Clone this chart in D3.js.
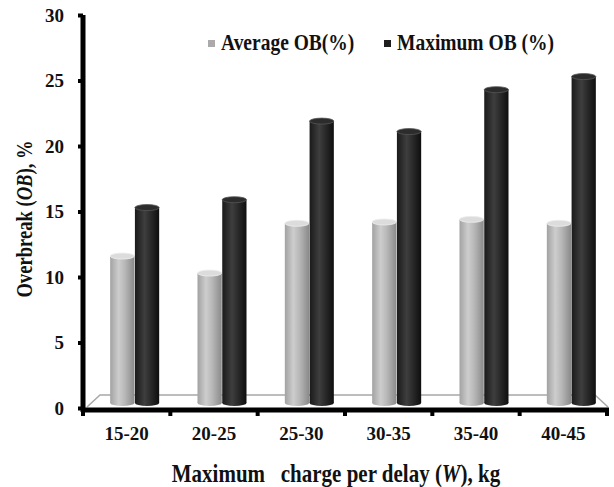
<!DOCTYPE html>
<html>
<head>
<meta charset="utf-8">
<script src="https://cdn.jsdelivr.net/npm/d3@7"></script>
<style>
body{margin:0;background:#fff;}
text{font-family:"Liberation Serif","Times New Roman",serif;font-weight:bold;fill:#111;}
</style>
</head>
<body>
<svg id="chart" width="614" height="487"></svg>
<script>
var categories=["15-20","20-25","25-30","30-35","35-40","40-45"];
var series=["Average OB(%)","Maximum OB (%)"];
var averageOB=[11.6,10.3,14.1,14.2,14.4,14.1];
var maximumOB=[15.3,15.9,21.9,21.1,24.3,25.3];
var yTicks=[0,5,10,15,20,25,30];

var w=614,h=487;
var margin={top:15,bottom:77,left:83,right:7};
var depth={x:8,y:-5};

var svg=d3.select("#chart")
          .attr("width",w)
          .attr("height",h);

var yScale=d3.scaleLinear()
             .domain([0,30])
             .range([h-margin.bottom-2,margin.top]);
var x0=d3.scaleBand()
         .domain(categories)
         .range([margin.left,w-margin.right]);
var pairW=49;
var x1=d3.scaleBand()
         .domain(series)
         .range([0,pairW])
         .paddingInner(0.02);

var defs=svg.append("defs");
var grads=[
  {id:"gGray",stops:[[0,"#a2a2a2"],[0.35,"#cdcdcd"],[0.6,"#b8b8b8"],[1,"#8a8a8a"]]},
  {id:"gBlack",stops:[[0,"#1a1a1a"],[0.4,"#3e3e3e"],[0.7,"#262626"],[1,"#0e0e0e"]]}
];
grads.forEach(function(g){
  defs.append("linearGradient")
      .attr("id",g.id)
      .attr("x1","0").attr("x2","1").attr("y1","0").attr("y2","0")
      .selectAll("stop")
      .data(g.stops)
      .enter()
      .append("stop")
      .attr("offset",function(d){return d[0];})
      .attr("stop-color",function(d){return d[1];});
});
var fills={"Average OB(%)":"url(#gGray)","Maximum OB (%)":"url(#gBlack)"};
var tops={"Average OB(%)":"#dcdcdc","Maximum OB (%)":"#2c2c2c"};
var legendCol={"Average OB(%)":"#aaaaaa","Maximum OB (%)":"#1e1e1e"};

// floor
var y0=yScale(0);
var fl=[[margin.left+4,y0-1],[margin.left+4+2*depth.x-3,y0+2*depth.y-3],
        [w-margin.right-12,y0+2*depth.y-3],[w-margin.right+1,y0-1]];
svg.append("path")
   .attr("d","M"+fl.map(function(p){return p.join(",");}).join("L"))
   .attr("fill","none")
   .attr("stroke","#a8a8a8")
   .attr("stroke-width",1.5);

// bars
var rows=categories.map(function(c,i){
  return {cat:c,vals:[{s:series[0],v:averageOB[i]},{s:series[1],v:maximumOB[i]}]};
});
var ry=3;
var yb=y0+depth.y;
var groups=svg.append("g")
   .selectAll("g")
   .data(rows)
   .enter()
   .append("g")
   .attr("transform",function(d){
     return "translate("+(x0(d.cat)+(x0.bandwidth()-pairW)/2+depth.x)+",0)";
   });
var bar=groups.selectAll("g")
   .data(function(d){return d.vals;})
   .enter()
   .append("g");
bar.append("ellipse")
   .attr("cx",function(d){return x1(d.s)+x1.bandwidth()/2;})
   .attr("cy",yb)
   .attr("rx",x1.bandwidth()/2)
   .attr("ry",ry)
   .attr("fill",function(d){return fills[d.s];});
bar.append("rect")
   .attr("x",function(d){return x1(d.s);})
   .attr("y",function(d){return yScale(d.v);})
   .attr("width",x1.bandwidth())
   .attr("height",function(d){return yb-yScale(d.v);})
   .attr("fill",function(d){return fills[d.s];});
bar.append("ellipse")
   .attr("cx",function(d){return x1(d.s)+x1.bandwidth()/2;})
   .attr("cy",function(d){return yScale(d.v);})
   .attr("rx",x1.bandwidth()/2)
   .attr("ry",ry)
   .attr("fill",function(d){return tops[d.s];})
   .attr("stroke",function(d){return d.s==series[0]?"#eeeeee":"#555";})
   .attr("stroke-width",0.8);

// y axis
var yAxis=d3.axisLeft(yScale)
            .tickValues(yTicks)
            .tickSize(5)
            .tickPadding(14);
var gy=svg.append("g")
   .attr("transform","translate("+margin.left+",0)")
   .call(yAxis);
gy.select(".domain").remove();
gy.append("line")
  .attr("x1",0).attr("x2",0)
  .attr("y1",yScale(30)).attr("y2",y0+4)
  .attr("stroke","#000").attr("stroke-width",5);
gy.selectAll(".tick line").attr("stroke","#000").attr("stroke-width",4);
gy.selectAll(".tick text")
  .attr("font-size",19)
  .attr("font-family","Liberation Serif")
  .attr("font-weight","bold")
  .attr("fill","#111");

// x axis
var xy=y0+2;
var gx=svg.append("g");
gx.append("line")
  .attr("x1",margin.left-2).attr("x2",w-margin.right+2)
  .attr("y1",xy).attr("y2",xy)
  .attr("stroke","#000").attr("stroke-width",5);
gx.selectAll("rect.xt")
  .data(categories.concat(["end"]))
  .enter()
  .append("rect")
  .attr("class","xt")
  .attr("x",function(d,i){return margin.left+i*x0.step()-2;})
  .attr("y",xy)
  .attr("width",4)
  .attr("height",6)
  .attr("fill","#000");
gx.selectAll("text")
  .data(categories)
  .enter()
  .append("text")
  .attr("x",function(d){return x0(d)+x0.bandwidth()/2;})
  .attr("y",440)
  .attr("text-anchor","middle")
  .attr("font-size",19)
  .text(function(d){return d;});

// axis titles
var xt=svg.append("text")
   .attr("transform","translate(336,482) scale(1,1.18)")
   .attr("text-anchor","middle")
   .attr("font-size",21)
   .style("white-space","pre");
xt.append("tspan").text("Maximum   charge per delay (");
xt.append("tspan").style("font-style","italic").text("W");
xt.append("tspan").text("), kg");

var yt=svg.append("text")
   .attr("transform","translate(32,219) rotate(-90) scale(1,1.25)")
   .attr("text-anchor","middle")
   .attr("font-size",18.6);
yt.append("tspan").text("Overbreak (");
yt.append("tspan").style("font-style","italic").text("OB");
yt.append("tspan").text("), %");

// legend
var legX=[208,384];
var leg=svg.append("g")
   .selectAll("g")
   .data(series)
   .enter()
   .append("g")
   .attr("transform",function(d,i){return "translate("+legX[i]+",43)";});
leg.append("rect")
   .attr("x",0).attr("y",-3)
   .attr("width",7).attr("height",7)
   .attr("fill",function(d){return legendCol[d];});
leg.append("text")
   .attr("transform","translate(13,7) scale(1,1.15)")
   .attr("font-size",19.5)
   .text(function(d){return d;});
</script>
</body>
</html>
